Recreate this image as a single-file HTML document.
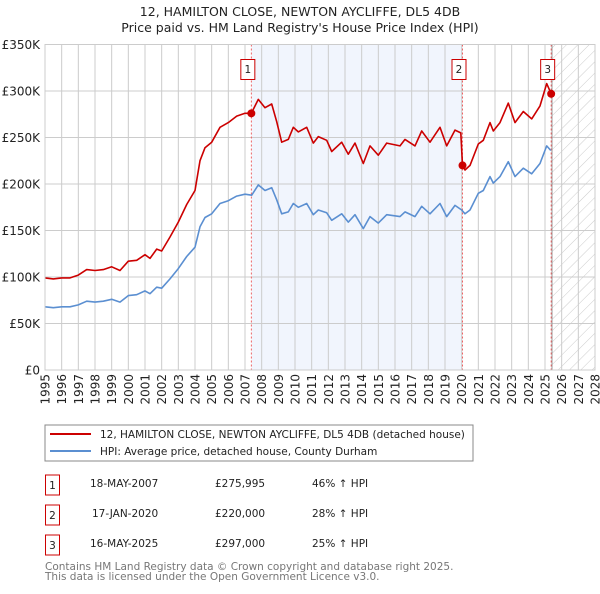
<!DOCTYPE html>
<html><head><meta charset="utf-8"><style>
body{margin:0;background:#fff;font-family:"DejaVu Sans","Liberation Sans",sans-serif;}
svg text{font-family:"DejaVu Sans","Liberation Sans",sans-serif;}
</style></head><body>
<svg id="c" width="600" height="590" xmlns="http://www.w3.org/2000/svg">
<defs><pattern id="hatch" width="8" height="8" patternUnits="userSpaceOnUse" patternTransform="rotate(45)"><line x1="0" y1="0" x2="0" y2="8" stroke="#ccc" stroke-width="1"/></pattern></defs>
<text x="300" y="16" text-anchor="middle" font-size="12.5" fill="#222">12, HAMILTON CLOSE, NEWTON AYCLIFFE, DL5 4DB</text>
<text x="300" y="32" text-anchor="middle" font-size="12.5" fill="#222">Price paid vs. HM Land Registry's House Price Index (HPI)</text>
<g id="plot"></g>
<rect x="45" y="425" width="428" height="36" fill="#fff" stroke="#888"/>
<line x1="50" y1="434" x2="91" y2="434" stroke="#cc0000" stroke-width="2"/>
<text x="100" y="438" font-size="10.5" fill="#222">12, HAMILTON CLOSE, NEWTON AYCLIFFE, DL5 4DB (detached house)</text>
<line x1="50" y1="451" x2="91" y2="451" stroke="#5b8fd1" stroke-width="2"/>
<text x="100" y="455" font-size="10.5" fill="#222">HPI: Average price, detached house, County Durham</text>
<g font-size="10.5" fill="#222">
<rect x="45.5" y="475" width="14" height="20" fill="none" stroke="#cc0000"/><text x="52.5" y="489" text-anchor="middle">1</text>
<text x="90" y="487">18-MAY-2007</text><text x="215" y="487">£275,995</text><text x="312" y="487">46% ↑ HPI</text>
<rect x="45.5" y="505" width="14" height="20" fill="none" stroke="#cc0000"/><text x="52.5" y="519" text-anchor="middle">2</text>
<text x="92" y="517">17-JAN-2020</text><text x="215" y="517">£220,000</text><text x="312" y="517">28% ↑ HPI</text>
<rect x="45.5" y="535" width="14" height="20" fill="none" stroke="#cc0000"/><text x="52.5" y="549" text-anchor="middle">3</text>
<text x="90" y="547">16-MAY-2025</text><text x="215" y="547">£297,000</text><text x="312" y="547">25% ↑ HPI</text>
</g>
<text x="45" y="570" font-size="10.5" fill="#777">Contains HM Land Registry data © Crown copyright and database right 2025.</text>
<text x="45" y="580" font-size="10.5" fill="#777">This data is licensed under the Open Government Licence v3.0.</text>
</svg>
<script>
const hpiYears=[1995.0,1995.5,1996.0,1996.5,1997.0,1997.5,1998.0,1998.5,1999.0,1999.5,2000.0,2000.5,2001.0,2001.3,2001.7,2002.0,2002.5,2003.0,2003.5,2004.0,2004.3,2004.6,2005.0,2005.5,2006.0,2006.5,2007.0,2007.4,2007.8,2008.2,2008.6,2008.9,2009.2,2009.6,2009.9,2010.2,2010.7,2011.1,2011.4,2011.9,2012.2,2012.8,2013.2,2013.6,2014.1,2014.5,2015.0,2015.5,2016.3,2016.6,2017.2,2017.6,2018.1,2018.7,2019.1,2019.6,2020.0,2020.2,2020.5,2021.0,2021.3,2021.7,2021.9,2022.3,2022.8,2023.2,2023.7,2024.2,2024.7,2025.1,2025.35];
const hpiValues=[68,67,68,68,70,74,73,74,76,73,80,81,85,82,89,88,98,109,122,132,154,164,168,179,182,187,189,188,199,193,196,183,168,170,179,175,179,167,172,169,161,168,159,167,152,165,158,167,165,170,165,176,168,179,165,177,172,168,172,190,193,208,201,208,224,208,217,211,222,241,236];
const priceYears=[1995.0,1995.5,1996.0,1996.5,1997.0,1997.5,1998.0,1998.5,1999.0,1999.5,2000.0,2000.5,2001.0,2001.3,2001.7,2002.0,2002.5,2003.0,2003.5,2004.0,2004.3,2004.6,2005.0,2005.5,2006.0,2006.5,2007.0,2007.38,2007.8,2008.2,2008.6,2008.9,2009.2,2009.6,2009.9,2010.2,2010.7,2011.1,2011.4,2011.9,2012.2,2012.8,2013.2,2013.6,2014.1,2014.5,2015.0,2015.5,2016.3,2016.6,2017.2,2017.6,2018.1,2018.7,2019.1,2019.6,2019.95,2020.05,2020.2,2020.5,2021.0,2021.3,2021.7,2021.9,2022.3,2022.8,2023.2,2023.7,2024.2,2024.7,2025.1,2025.37];
const priceValues=[99,98,99,99,102,108,107,108,111,107,117,118,124,120,130,128,143,159,178,193,225,239,245,261,266,273,276,276,291,282,286,267,245,248,261,256,261,244,251,247,235,245,232,244,222,241,231,244,241,248,241,257,245,261,241,258,255,220,215,220,243,247,266,257,266,287,266,278,270,284,308,297];
const saleYears=[2007.38,2020.05,2025.37];
const salePrices=[276,220,297];
const saleLabels=["1","2","3"];
const yTicks=[0,50,100,150,200,250,300,350];
const yTickLabels=["£0","£50K","£100K","£150K","£200K","£250K","£300K","£350K"];
const xTicks=[1995,1996,1997,1998,1999,2000,2001,2002,2003,2004,2005,2006,2007,2008,2009,2010,2011,2012,2013,2014,2015,2016,2017,2018,2019,2020,2021,2022,2023,2024,2025,2026,2027,2028];

const X0=45,X1=595,Y0=370,Y1=44.5;
const xs=y=>X0+(y-1995)/(2028-1995)*(X1-X0);
const ys=v=>Y0-v/350*(Y0-Y1);
const NS="http://www.w3.org/2000/svg";
const g=document.getElementById('plot');
function mk(t,a){const e=document.createElementNS(NS,t);for(const k in a)e.setAttribute(k,a[k]);g.appendChild(e);return e;}

let e=mk('rect',{x:xs(saleYears[0]),y:Y1,width:xs(saleYears[1])-xs(saleYears[0]),height:Y0-Y1,fill:'#f1f5fd'});


e=mk('rect',{x:xs(2025.42),y:Y1,width:X1-xs(2025.42),height:Y0-Y1,fill:'url(#hatch)'});


yTicks.forEach((v,i)=>{
  e=mk('line',{x1:X0,x2:X1,y1:ys(v),y2:ys(v),stroke:'#cccccc'});
  
  
  e=mk('text',{x:40,y:ys(v)+4.5,'text-anchor':'end','font-size':'12',fill:'#222'});
  e.textContent=yTickLabels[i];
  
  
});
xTicks.forEach(yr=>{
  e=mk('line',{x1:xs(yr),x2:xs(yr),y1:Y1,y2:Y0,stroke:'#cccccc'});
  
  
  const t=mk('text',{x:0,y:0,'text-anchor':'end','font-size':'12',fill:'#222',transform:`translate(${xs(yr)+4.5},374) rotate(-90)`});
  t.textContent=yr;
  
  
});
e=mk('line',{x1:xs(2025.42),x2:xs(2025.42),y1:Y1,y2:Y0,stroke:'#999'});


saleYears.forEach((yr,i)=>{
  e=mk('line',{x1:xs(yr),x2:xs(yr),y1:Y1,y2:Y0,stroke:'#ee5555','stroke-dasharray':'2,2','stroke-width':'0.9'});
  
  
});
function path(xa,va,col,name){
  const d=xa.map((x,i)=>(i?'L':'M')+xs(x).toFixed(1)+','+ys(va[i]).toFixed(1)).join('');
  const p=mk('path',{d:d,fill:'none',stroke:col,'stroke-width':'1.6','stroke-linejoin':'round'});
  
  
}
path(hpiYears,hpiValues,'#5b8fd1','hpi-line');
path(priceYears,priceValues,'#cc0000','price-line');
saleYears.forEach((yr,i)=>{
  e=mk('circle',{cx:xs(yr),cy:ys(salePrices[i]),r:4,fill:'#cc0000'});
  
  
  e=mk('rect',{x:xs(yr)-10.5,y:59.5,width:14,height:20,fill:'#fff',stroke:'#cc0000'});
  
  
  e=mk('text',{x:xs(yr)-3.5,y:73,'text-anchor':'middle','font-size':'10.5',fill:'#222'});
  e.textContent=saleLabels[i];
  
  
});
e=mk('rect',{x:X0,y:Y1,width:X1-X0,height:Y0-Y1,fill:'none',stroke:'#cccccc'});


</script>
</body></html>
